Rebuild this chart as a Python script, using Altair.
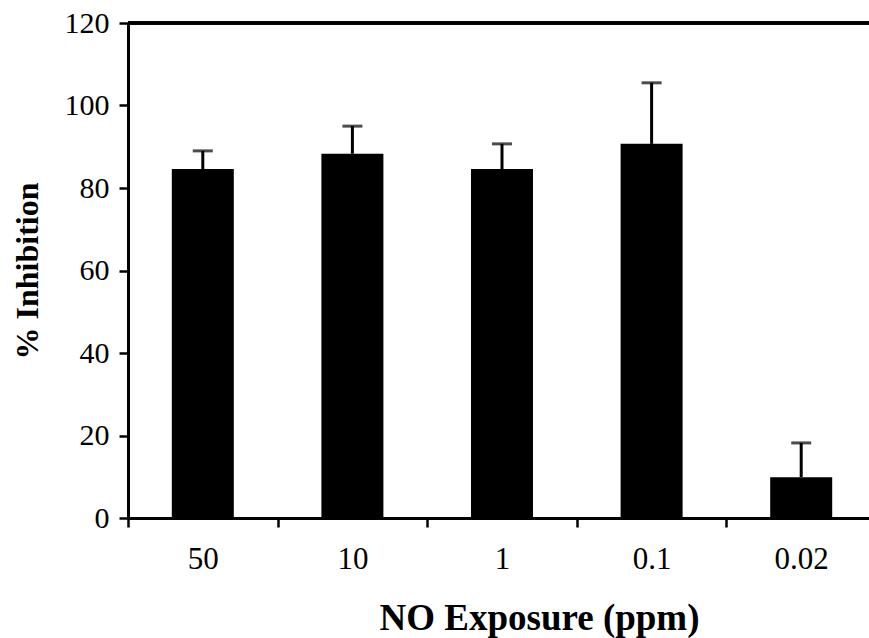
import altair as alt
import pandas as pd

categories = ["50", "10", "1", "0.1", "0.02"]
mean_inhibition = [84.6, 88.3, 84.6, 90.7, 9.9]
upper_error = [89.0, 95.0, 90.7, 105.5, 18.2]

df = pd.DataFrame({"cat": categories, "mean": mean_inhibition, "upper": upper_error})

FONT = "Liberation Serif"
W = 741
H = 495

x_enc = alt.X(
    "cat:N",
    sort=categories,
    scale=alt.Scale(paddingInner=0, paddingOuter=0, range=[0, 748]),
    axis=alt.Axis(
        title="NO Exposure (ppm)",
        labelAngle=0,
        tickBand="extent",
        tickSize=9,
        tickWidth=2.5,
        tickColor="black",
        domainColor="black",
        domainWidth=3,
        labelFont=FONT,
        labelFontSize=31,
        labelColor="black",
        labelPadding=17,
        titleFont=FONT,
        titleFontSize=37,
        titleFontWeight="bold",
        titleColor="black",
        titleX=411,
        titleY=111,
        titleBaseline="alphabetic",
        grid=False,
    ),
)

y_scale = alt.Scale(domain=[0, 120], nice=False, zero=True)

bars = alt.Chart(df).mark_bar(size=62, color="black").encode(
    x=x_enc,
    y=alt.Y(
        "mean:Q",
        scale=y_scale,
        axis=alt.Axis(
            title="% Inhibition",
            values=[0, 20, 40, 60, 80, 100, 120],
            tickSize=9,
            tickWidth=2.5,
            tickColor="black",
            domainColor="black",
            domainWidth=3,
            labelFont=FONT,
            labelFontSize=30,
            labelColor="black",
            labelPadding=10,
            titleFont=FONT,
            titleFontSize=32,
            titleFontWeight="bold",
            titleColor="black",
            titleX=-91,
            titleBaseline="alphabetic",
            grid=False,
        ),
    ),
)

err = alt.Chart(df).mark_rule(color="black", strokeWidth=3).encode(
    x=alt.X("cat:N", sort=categories),
    y=alt.Y("mean:Q"),
    y2="upper:Q",
)

caps = alt.Chart(df).mark_tick(color="black", size=20, thickness=3).encode(
    x=alt.X("cat:N", sort=categories),
    y=alt.Y("upper:Q"),
)

top = alt.Chart(df).mark_rule(color="black", strokeWidth=3).encode(
    x=alt.value(0),
    x2=alt.value(748),
    y=alt.datum(120),
)

chart = (
    alt.layer(bars, err, caps, top)
    .properties(
        width=W,
        height=H,
        autosize=alt.AutoSizeParams(type="none"),
        padding={"left": 128, "top": 23, "right": 0, "bottom": 120},
    )
    .configure_view(stroke=None)
    .configure(background="white")
)

chart.save("out.html", embed_options={"renderer": "svg", "actions": False})
